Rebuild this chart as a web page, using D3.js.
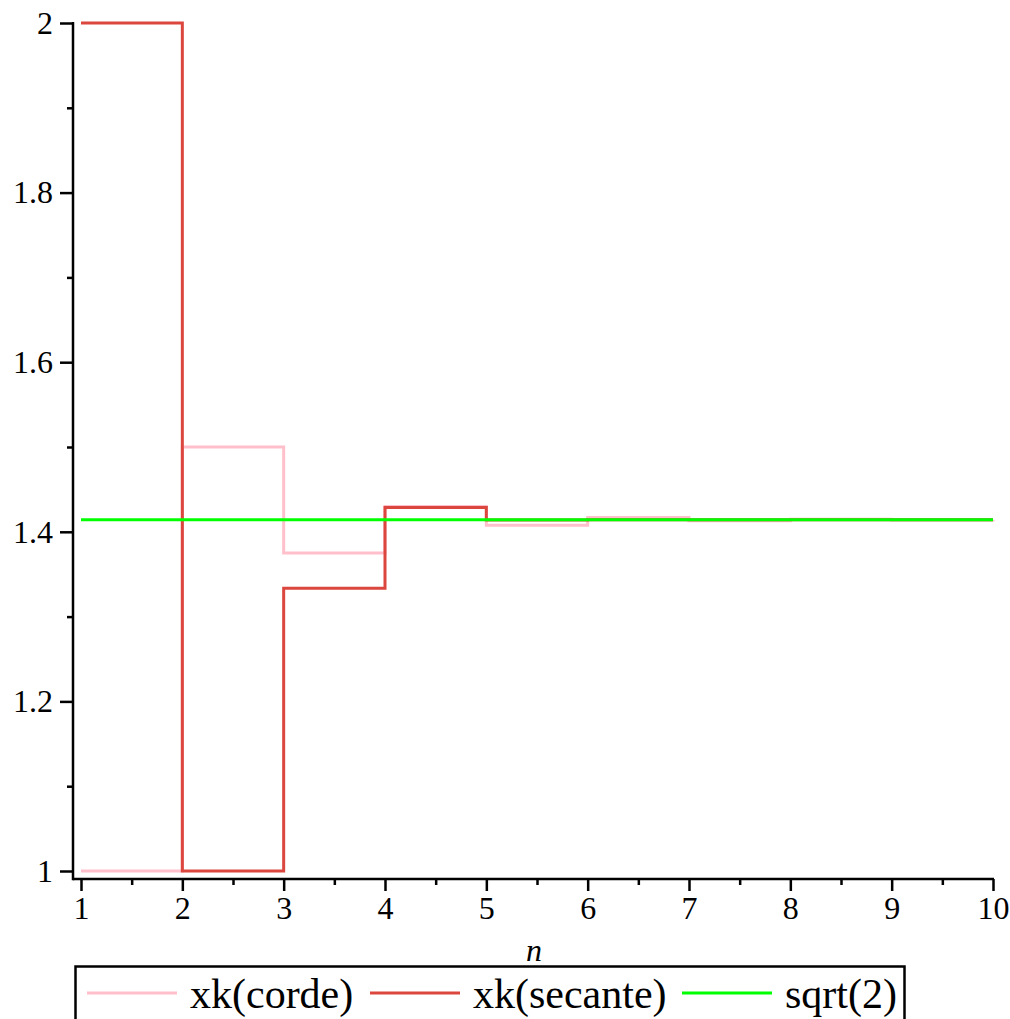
<!DOCTYPE html>
<html>
<head>
<meta charset="utf-8">
<script src="https://cdn.jsdelivr.net/npm/d3@7"></script>
<style>
  html, body { margin: 0; padding: 0; background: #fff; }
  svg { display: block; }
  svg text { font-family: "Liberation Serif", "Times New Roman", serif !important; }
</style>
</head>
<body>
<svg id="chart" width="1010" height="1019"></svg>
<script>
const nValues = [1, 2, 3, 4, 5, 6, 7, 8, 9, 10];
const corde = [1, 1.5, 1.375, 1.4297, 1.4077, 1.4169, 1.4131, 1.4147, 1.4140, 1.4143];
const secante = [2, 1, 1.3333, 1.4286, 1.4138, 1.41421, 1.41421, 1.41421, 1.41421, 1.41421];
const sqrt2N = [1, 10];
const sqrt2 = [1.41421, 1.41421];
const xMajorTicks = [1, 2, 3, 4, 5, 6, 7, 8, 9, 10];
const xMinorTicks = [1.5, 2.5, 3.5, 4.5, 5.5, 6.5, 7.5, 8.5, 9.5];
const yMajorTicks = [1, 1.2, 1.4, 1.6, 1.8, 2];
const yMinorTicks = [1.1, 1.3, 1.5, 1.7, 1.9];
const seriesNames = ["xk(corde)", "xk(secante)", "sqrt(2)"];
const seriesColors = ["#FFC0CB", "#DB463F", "#00FF00"];

const svg = d3.select("#chart");
const FONT = "Liberation Serif";

const x = d3.scaleLinear().domain([1, 10]).range([81, 993]);
const y = d3.scaleLinear().domain([1, 2]).range([871, 23]);

const axisX = 73;   // pixel position of y axis
const axisY = 879;  // pixel position of x axis

// series
const line = d3.line().x(d => x(d[0])).y(d => y(d[1])).curve(d3.curveStepAfter);
const series = [
  nValues.map((n, i) => [n, corde[i]]),
  nValues.map((n, i) => [n, secante[i]]),
  sqrt2N.map((n, i) => [n, sqrt2[i]])
];
series.forEach((s, i) => {
  svg.append("path")
    .attr("d", line(s))
    .attr("fill", "none")
    .attr("stroke", seriesColors[i])
    .attr("stroke-width", 3)
    .attr("stroke-linejoin", "miter");
});

// axes
function styleAxis(g, fontSize) {
  g.attr("font-family", FONT).attr("font-size", fontSize);
  g.select(".domain").remove();
  g.selectAll(".tick line").attr("stroke", "#000").attr("stroke-width", 2.5);
  g.selectAll(".tick text").attr("fill", "#000")
    .style("font-family", FONT, "important").style("font-size", fontSize + "px");
}

const gx = svg.append("g").attr("transform", `translate(0,${axisY})`)
  .call(d3.axisBottom(x).tickValues(xMajorTicks).tickSize(12).tickPadding(5).tickFormat(d3.format("d")));
styleAxis(gx, 32);
const gxm = svg.append("g").attr("transform", `translate(0,${axisY})`)
  .call(d3.axisBottom(x).tickValues(xMinorTicks).tickSize(6).tickFormat(""));
styleAxis(gxm, 32);

const gy = svg.append("g").attr("transform", `translate(${axisX},0)`)
  .call(d3.axisLeft(y).tickValues(yMajorTicks).tickSize(13).tickPadding(7).tickFormat(d => String(+d.toFixed(1))));
styleAxis(gy, 32);
const gym = svg.append("g").attr("transform", `translate(${axisX},0)`)
  .call(d3.axisLeft(y).tickValues(yMinorTicks).tickSize(6).tickFormat(""));
styleAxis(gym, 32);

// axis lines
svg.append("line").attr("x1", axisX).attr("x2", x(10) + 1).attr("y1", axisY).attr("y2", axisY)
  .attr("stroke", "#000").attr("stroke-width", 2.5);
svg.append("line").attr("x1", axisX).attr("x2", axisX).attr("y1", y(2) - 1).attr("y2", axisY + 1.25)
  .attr("stroke", "#000").attr("stroke-width", 2.5);

// axis title
svg.append("text").attr("x", 534).attr("y", 961).attr("text-anchor", "middle")
  .style("font-family", FONT, "important").style("font-size", "32px").style("font-style", "italic").text("n");

// legend
svg.append("rect").attr("x", 75.5).attr("y", 966.5).attr("width", 829).attr("height", 70)
  .attr("fill", "none").attr("stroke", "#000").attr("stroke-width", 2.5);
const legendLineX = [87, 370, 682];
legendLineX.forEach((lx, i) => {
  svg.append("line").attr("x1", lx).attr("x2", lx + 90).attr("y1", 993).attr("y2", 993)
    .attr("stroke", seriesColors[i]).attr("stroke-width", 3);
  svg.append("text").attr("x", lx + 103).attr("y", 1008)
    .style("font-family", FONT, "important").style("font-size", "42px").text(seriesNames[i]);
});
</script>
</body>
</html>
